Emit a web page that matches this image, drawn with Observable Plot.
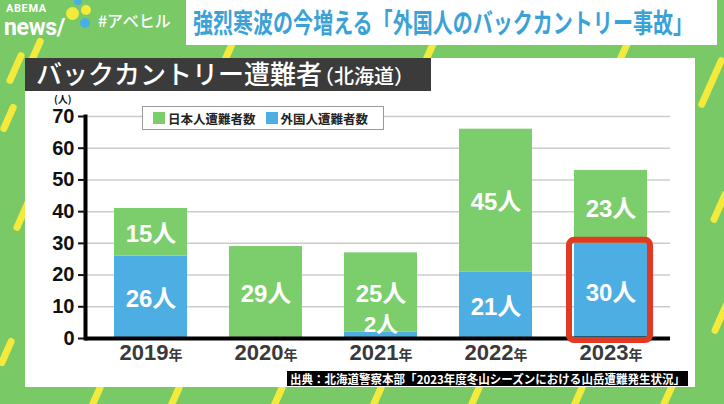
<!DOCTYPE html>
<html><head><meta charset="utf-8">
<script src="https://cdn.jsdelivr.net/npm/d3@7"></script>
<script src="https://cdn.jsdelivr.net/npm/@observablehq/plot@0.6"></script>
<style>
html,body{margin:0;padding:0;}
body{width:724px;height:404px;overflow:hidden;background:#79c967;position:relative;font-family:"Noto Sans CJK JP",sans-serif;}
.abs{position:absolute;}
.dash{position:absolute;width:7px;background:#f3ea3c;border-radius:3.5px;transform:rotate(24deg);}
#header{left:186px;top:0;width:531px;height:45px;background:#fff;}
#headerText{left:193px;top:5px;font-size:27px;font-weight:bold;color:#3ba2d8;white-space:nowrap;transform-origin:0 0;line-height:34px;}
#panel{left:25px;top:58px;width:670px;height:329px;background:#fff;}
#band{left:25px;top:58px;width:406px;height:33px;background:#3b3b3b;color:#fff;white-space:nowrap;}
#band .t1{position:absolute;left:11px;top:-2px;font-size:26px;line-height:33px;font-weight:500;}
#band .t2{font-size:20px;margin-left:-8px;font-weight:500;}
#chart{left:25px;top:91px;}
#unit{left:54px;top:94px;font-size:10px;line-height:10px;color:#111;font-weight:bold;}
#legend{left:142px;top:106px;width:230px;height:22px;border:1.5px solid #9a9a9a;background:#fff;display:flex;align-items:center;padding-left:10px;box-sizing:content-box;font-size:12.5px;font-weight:bold;color:#222;}
#legend .item{display:flex;align-items:center;margin-right:10px;}
#legend .sw{width:12px;height:12px;margin-right:3px;}
#caption{left:287px;top:371px;width:401px;height:15px;background:#000;overflow:hidden;}
#caption span{position:absolute;left:3px;top:0;font-size:12px;line-height:15px;color:#fff;font-weight:bold;white-space:nowrap;transform-origin:0 0;}
#logo1{left:6px;top:3px;font-family:Roboto,sans-serif;font-weight:bold;font-size:11px;line-height:12px;color:#fff;letter-spacing:0.6px;}
#logo2{left:4px;top:18px;font-family:Roboto,sans-serif;font-weight:bold;font-size:23px;line-height:20px;color:#fff;letter-spacing:-0.3px;}
#tag{left:98px;top:8px;font-size:16px;color:#fff;font-weight:500;}
.dot{position:absolute;border-radius:50%;}
</style>
</head>
<body>
<div id="dashes"></div>
<div class="abs" id="logo1">ABEMA</div>
<div class="abs" id="logo2">news/</div>
<div class="dot" style="left:66px;top:7px;width:13px;height:13px;background:#f4ea3c"></div>
<div class="dot" style="left:74px;top:-3px;width:8px;height:8px;background:#4aaee3"></div>
<div class="dot" style="left:81px;top:5px;width:10px;height:10px;background:#f4ea3c"></div>
<div class="dot" style="left:80px;top:18px;width:10px;height:10px;background:#4aaee3"></div>
<div class="abs" id="tag">#アベヒル</div>
<div class="abs" id="header"></div>
<div class="abs" id="headerText">強烈寒波の今増える「外国人のバックカントリー事故」</div>
<div class="abs" id="panel"></div>
<div class="abs" id="band"><span class="t1">バックカントリー遭難者<span class="t2">（北海道）</span></span></div>
<div class="abs" id="chart"></div>
<div class="abs" id="unit">(人)</div>
<div class="abs" id="legend"></div>
<div class="abs" id="caption"><span>出典：北海道警察本部「2023年度冬山シーズンにおける山岳遭難発生状況」</span></div>
<script>
// ---- data ----
const years = ["2019", "2020", "2021", "2022", "2023"];
const japanese = [15, 29, 25, 45, 23];
const foreign = [26, 0, 2, 21, 30];
const seriesNames = ["日本人遭難者数", "外国人遭難者数"];
const seriesColors = ["#7ccd6c", "#4caee3"];
const yTicks = [0, 10, 20, 30, 40, 50, 60, 70];
const highlightYear = "2023";

// ---- decorative background dashes ----
const dashSpecs = [
  [15,68,34],[8,118,30],[22,215,34],[6,352,30],
  [35,52,30],[228,52,30],[429,52,30],[623,52,30],
  [711,82,55],[719,207,34],[720,318,34],
  [95,398,30],[174,398,30],[277,398,30],[376,398,30],[474,398,30],[577,398,30],[668,394,30]
];
const dashBox = document.getElementById("dashes");
dashSpecs.forEach(([cx, cy, len]) => {
  const d = document.createElement("div");
  d.className = "dash";
  d.style.left = (cx - 3.5) + "px";
  d.style.top = (cy - len / 2) + "px";
  d.style.height = len + "px";
  dashBox.appendChild(d);
});

// ---- table ----
const rows = [];
years.forEach((yr, i) => {
  rows.push({year: yr, group: seriesNames[1], value: foreign[i], y1: 0, y2: foreign[i]});
  rows.push({year: yr, group: seriesNames[0], value: japanese[i], y1: foreign[i], y2: foreign[i] + japanese[i]});
});

const FONT = "'Liberation Sans','Noto Sans CJK JP',sans-serif";

const plot = Plot.plot({
  width: 670,
  height: 277,
  marginLeft: 60,
  marginRight: 25,
  marginTop: 25,
  marginBottom: 30,
  style: {fontFamily: FONT, background: "transparent", overflow: "visible"},
  x: {domain: years, paddingInner: 0.362, paddingOuter: 0.2026, align: 0.553, label: null},
  y: {domain: [0, 70], label: null},
  color: {domain: seriesNames, range: seriesColors},
  marks: [
    Plot.gridY(yTicks.filter(t => t > 0), {stroke: "#cccccc", strokeOpacity: 1, strokeWidth: 1.5}),
    Plot.barY(rows.filter(d => d.value > 0), {x: "year", y1: "y1", y2: "y2", fill: "group"}),
    Plot.ruleY([0], {stroke: "#000", strokeWidth: 4}),
    Plot.frame({anchor: "left", stroke: "#000", strokeWidth: 4}),
    Plot.axisY({ticks: yTicks, tickSize: 7, tickPadding: 4, fontSize: 20, fontWeight: "bold", color: "#111", strokeWidth: 2, label: null}),
    Plot.axisX({tickSize: 0, tickPadding: 6, fontSize: 22, fontWeight: "bold", color: "#3a3a3a", tickFormat: d => d + "年", label: null}),
    Plot.barY(rows.filter(d => d.year === highlightYear && d.group === seriesNames[1]), {
      x: "year", y1: "y1", y2: "y2", fill: "none", stroke: "#e23a22", strokeWidth: 6, rx: 5,
      insetLeft: -5, insetRight: -3, insetTop: -3, insetBottom: -2
    }),
    Plot.text(rows.filter(d => d.value >= 5), {
      x: "year", y: d => (d.y1 + d.y2) / 2, text: d => d.value + "人",
      fill: "white", fontSize: 24, fontWeight: "bold", dy: 2, ariaLabel: "bar-labels"
    }),
    Plot.text(rows.filter(d => d.value > 0 && d.value < 5), {
      x: "year", y: d => (d.y1 + d.y2) / 2, text: d => d.value + "人",
      fill: "white", fontSize: 22, fontWeight: "bold", dy: -10, ariaLabel: "bar-labels"
    })
  ]
});
document.getElementById("chart").appendChild(plot);

// smaller 人 / 年 suffixes
d3.select(plot).selectAll('g[aria-label="bar-labels"] text').each(function () {
  const s = this.textContent;
  this.textContent = s.replace("人", "");
  d3.select(this).append("tspan").attr("font-size", 18).text("人");
});
d3.select(plot).selectAll('g[aria-label="x-axis tick label"] text').each(function () {
  const s = this.textContent;
  this.textContent = s.replace("年", "");
  d3.select(this).append("tspan").attr("font-size", 14).text("年");
});

// legend from series arrays
const lg = document.getElementById("legend");
seriesNames.forEach((name, i) => {
  const it = document.createElement("div");
  it.className = "item";
  it.innerHTML = `<div class="sw" style="background:${seriesColors[i]}"></div><span>${name}</span>`;
  lg.appendChild(it);
});

// fit texts horizontally
function fitWidth(el, w) {
  const r = el.getBoundingClientRect().width;
  if (r > 0) el.style.transform = `scaleX(${w / r})`;
}
fitWidth(document.getElementById("headerText"), 500);
fitWidth(document.querySelector("#caption span"), 395);
</script>
</body></html>
